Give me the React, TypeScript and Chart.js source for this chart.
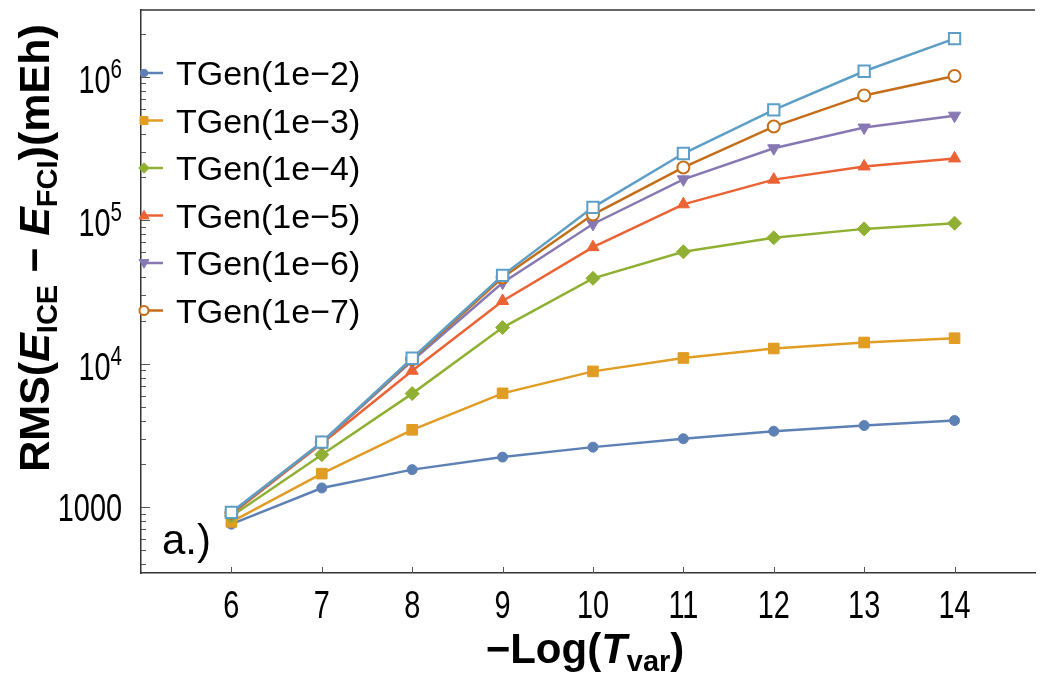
import React, { useEffect, useRef } from 'react';
import { Chart, registerables } from 'chart.js';

Chart.register(...registerables);

// ---------- data ----------
const xValues = [6, 7, 8, 9, 10, 11, 12, 13, 14];
const xTickLabels = ['6', '7', '8', '9', '10', '11', '12', '13', '14'];
const seriesNames = ['TGen(1e−2)', 'TGen(1e−3)', 'TGen(1e−4)', 'TGen(1e−5)', 'TGen(1e−6)', 'TGen(1e−7)', 'TGen(1e−8)'];
const tgen1e2 = [762, 1362, 1828, 2235, 2623, 3000, 3387, 3710, 4019];
const tgen1e3 = [791, 1714, 3464, 6220, 8846, 10970, 12770, 14060, 15060];
const tgen1e4 = [866, 2323, 6190, 17870, 39370, 60260, 75380, 87060, 95300];
const tgen1e5 = [894, 2783, 8940, 27380, 64940, 129100, 191900, 237100, 269800];
const tgen1e6 = [908, 2825, 10490, 36710, 94200, 192800, 317500, 442400, 535500];
const tgen1e7 = [916, 2825, 10750, 39910, 109600, 233300, 449600, 741000, 1012000];
const tgen1e8 = [921, 2840, 10920, 41300, 123000, 291800, 587000, 1092000, 1845000];
const yTickValues = [1000, 10000, 100000, 1000000];
const yTickBases = ['1000', '10', '10', '10'];
const yTickExps = ['', '4', '5', '6'];
const legendCount = 6;

const seriesValues = [tgen1e2, tgen1e3, tgen1e4, tgen1e5, tgen1e6, tgen1e7, tgen1e8];
const colors = ['#5E81B5', '#E19C24', '#8FB032', '#EB6235', '#8778B3', '#C56E1A', '#5D9EC7'];
const markers = ['circle', 'rect', 'rectRot', 'triangle', 'triangleDown', 'circle', 'rect'];
const openMarker = [false, false, false, false, false, true, true];
const markerRadius = [5, 7.5, 7, 7, 7, 6, 8];

const FONT = '"Liberation Sans", Arial, Helvetica, sans-serif';
const FRAME = '#333333';

function markerPath(ctx: CanvasRenderingContext2D, style: string, x: number, y: number, r: number) {
  ctx.beginPath();
  if (style === 'circle') {
    ctx.arc(x, y, r, 0, Math.PI * 2);
  } else if (style === 'rect') {
    const s = r / Math.SQRT2;
    ctx.rect(x - s, y - s, 2 * s, 2 * s);
  } else if (style === 'rectRot') {
    ctx.moveTo(x, y - r);
    ctx.lineTo(x + r, y);
    ctx.lineTo(x, y + r);
    ctx.lineTo(x - r, y);
    ctx.closePath();
  } else if (style === 'triangle') {
    ctx.moveTo(x, y - r);
    ctx.lineTo(x + r * 0.95, y + r * 0.65);
    ctx.lineTo(x - r * 0.95, y + r * 0.65);
    ctx.closePath();
  } else {
    ctx.moveTo(x, y + r);
    ctx.lineTo(x + r * 0.95, y - r * 0.65);
    ctx.lineTo(x - r * 0.95, y - r * 0.65);
    ctx.closePath();
  }
}

function drawMarker(ctx: CanvasRenderingContext2D, i: number, x: number, y: number, scale = 1) {
  ctx.save();
  markerPath(ctx, markers[i], x, y, markerRadius[i] * scale);
  ctx.fillStyle = openMarker[i] ? '#ffffff' : colors[i];
  ctx.strokeStyle = colors[i];
  ctx.lineWidth = openMarker[i] ? 2 : 1;
  ctx.fill();
  ctx.stroke();
  ctx.restore();
}

type Seg = { t: string; size: number; weight?: string; italic?: boolean; dy?: number };

function segFont(s: Seg) {
  return `${s.italic ? 'italic ' : ''}${s.weight || 'normal'} ${s.size}px ${FONT}`;
}

function richWidth(ctx: CanvasRenderingContext2D, segs: Seg[]) {
  let w = 0;
  for (const s of segs) {
    ctx.font = segFont(s);
    w += ctx.measureText(s.t).width;
  }
  return w;
}

function drawRich(ctx: CanvasRenderingContext2D, segs: Seg[], x: number, y: number) {
  let cx = x;
  for (const s of segs) {
    ctx.font = segFont(s);
    ctx.fillText(s.t, cx, y + (s.dy || 0));
    cx += ctx.measureText(s.t).width;
  }
}

const decorPlugin = {
  id: 'decor',
  afterDraw(chart: any) {
    const ctx: CanvasRenderingContext2D = chart.ctx;
    const area = chart.chartArea;
    const xs = chart.scales.x;
    const ys = chart.scales.y;
    ctx.save();

    // top frame line
    ctx.strokeStyle = FRAME;
    ctx.lineWidth = 1.5;
    ctx.beginPath();
    ctx.moveTo(area.left, area.top);
    ctx.lineTo(area.right, area.top);
    ctx.stroke();

    // inward ticks
    ctx.lineWidth = 1;
    ctx.strokeStyle = '#555';
    ctx.beginPath();
    for (const v of xValues) {
      const px = Math.round(xs.getPixelForValue(v)) + 0.5;
      ctx.moveTo(px, area.bottom);
      ctx.lineTo(px, area.bottom - 6);
    }
    for (let e = 2; e <= 6; e++) {
      for (let m = 1; m <= 9; m++) {
        const v = m * Math.pow(10, e);
        if (v < ys.min || v > ys.max) continue;
        const py = Math.round(ys.getPixelForValue(v)) + 0.5;
        ctx.moveTo(area.left, py);
        ctx.lineTo(area.left + (m === 1 ? 9 : 5), py);
      }
    }
    ctx.stroke();

    ctx.fillStyle = '#000';
    ctx.textBaseline = 'alphabetic';

    // x tick labels
    const tsx = 0.76;
    const tsize = 38;
    xTickLabels.forEach((lab, k) => {
      const px = xs.getPixelForValue(xValues[k]);
      ctx.save();
      ctx.translate(px, 618);
      ctx.scale(tsx, 1);
      ctx.font = `${tsize}px ${FONT}`;
      ctx.textAlign = 'center';
      ctx.fillText(lab, 0, 0);
      ctx.restore();
    });

    // y tick labels
    yTickValues.forEach((v, k) => {
      const py = ys.getPixelForValue(v);
      ctx.save();
      ctx.translate(122, py);
      ctx.scale(tsx, 1);
      ctx.textAlign = 'left';
      if (yTickExps[k]) {
        const segs: Seg[] = [
          { t: yTickBases[k], size: tsize, dy: 0 },
          { t: yTickExps[k], size: 27, dy: -15 },
        ];
        const w = richWidth(ctx, segs);
        drawRich(ctx, segs, -w, 16);
      } else {
        ctx.font = `${tsize}px ${FONT}`;
        const w = ctx.measureText(yTickBases[k]).width;
        ctx.fillText(yTickBases[k], -w, 14);
      }
      ctx.restore();
    });

    // x axis title
    {
      const segs: Seg[] = [
        { t: '−Log(', size: 42, weight: 'bold' },
        { t: 'T', size: 42, weight: 'bold', italic: true },
        { t: 'var', size: 29, weight: 'bold', dy: 8 },
        { t: ')', size: 42, weight: 'bold' },
      ];
      ctx.save();
      ctx.translate(585, 663);
      const w = richWidth(ctx, segs);
      drawRich(ctx, segs, -w / 2, 0);
      ctx.restore();
    }

    // y axis title
    {
      const segs: Seg[] = [
        { t: 'RMS(', size: 43, weight: 'bold' },
        { t: 'E', size: 43, weight: 'bold', italic: true },
        { t: 'ICE', size: 29, weight: 'bold', dy: 8 },
        { t: ' − ', size: 43, weight: 'bold' },
        { t: 'E', size: 43, weight: 'bold', italic: true },
        { t: 'FCI', size: 29, weight: 'bold', dy: 8 },
        { t: ')(mEh)', size: 43, weight: 'bold' },
      ];
      ctx.save();
      ctx.translate(49, 248);
      ctx.rotate(-Math.PI / 2);
      const w = richWidth(ctx, segs);
      drawRich(ctx, segs, -w / 2, 0);
      ctx.restore();
    }

    // panel tag
    ctx.save();
    ctx.font = `42px ${FONT}`;
    ctx.textAlign = 'left';
    ctx.fillText('a.)', 162, 554);
    ctx.restore();

    // legend
    for (let i = 0; i < legendCount; i++) {
      const y = 73 + i * 47.5;
      ctx.save();
      ctx.strokeStyle = colors[i];
      ctx.lineWidth = 2.5;
      ctx.beginPath();
      ctx.moveTo(area.left + 1, y);
      ctx.lineTo(area.left + 22, y);
      ctx.stroke();
      drawMarker(ctx, i, area.left + 3, y, 0.75);
      ctx.fillStyle = '#000';
      ctx.font = `34px ${FONT}`;
      ctx.textAlign = 'left';
      ctx.fillText(seriesNames[i], 176, y + 12);
      ctx.restore();
    }

    ctx.restore();
  },
};

export default function App() {
  const canvasRef = useRef<HTMLCanvasElement | null>(null);

  useEffect(() => {
    document.body.style.margin = '0';
    const canvas = canvasRef.current;
    if (!canvas) return;
    const datasets = seriesValues.map((vals, i) => ({
      label: seriesNames[i],
      data: xValues.map((x, k) => ({ x, y: vals[k] })),
      borderColor: colors[i],
      backgroundColor: colors[i],
      borderWidth: 2.5,
      pointStyle: markers[i] === 'triangleDown' ? 'triangle' : markers[i],
      rotation: markers[i] === 'triangleDown' ? 180 : 0,
      pointRadius: markerRadius[i],
      pointBackgroundColor: openMarker[i] ? '#ffffff' : colors[i],
      pointBorderColor: colors[i],
      pointBorderWidth: openMarker[i] ? 2 : 1,
      tension: 0,
      order: seriesValues.length - i,
    }));
    const chart = new Chart(canvas, {
      type: 'line',
      data: { datasets },
      options: {
        animation: false,
        responsive: false,
        maintainAspectRatio: false,
        layout: { padding: { left: 0, right: 0, top: 8, bottom: 0 } },
        plugins: {
          legend: { display: false },
          tooltip: { enabled: false },
        },
        scales: {
          x: {
            type: 'linear',
            min: 5,
            max: 14.89,
            ticks: { display: false },
            grid: { display: false, drawTicks: false },
            border: { display: true, color: FRAME, width: 1.5 },
            afterFit: (s: any) => { s.height = 102; },
          },
          y: {
            type: 'logarithmic',
            min: 348,
            max: 2919000,
            ticks: { display: false },
            grid: { display: false, drawTicks: false },
            border: { display: true, color: FRAME, width: 1.5 },
            afterFit: (s: any) => { s.width = 141; },
          },
        },
      },
      plugins: [decorPlugin],
    });
    return () => chart.destroy();
  }, []);

  return (
    <div style={{ width: 1045, height: 675, background: '#fff' }}>
      <canvas ref={canvasRef} width={1045} height={675} style={{ display: 'block' }} />
    </div>
  );
}
